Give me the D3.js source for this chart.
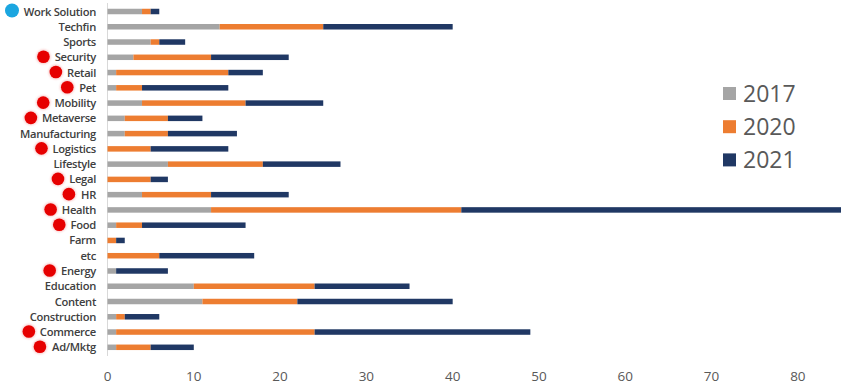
<!DOCTYPE html>
<html><head><meta charset="utf-8">
<script src="https://cdn.jsdelivr.net/npm/d3@7"></script>
<style>body{margin:0;background:#fff}svg{display:block}</style>
</head><body>
<svg id="c" width="863" height="389"></svg>
<script>
const categories = ["Work Solution","Techfin","Sports","Security","Retail","Pet","Mobility","Metaverse","Manufacturing","Logistics","Lifestyle","Legal","HR","Health","Food","Farm","etc","Energy","Education","Content","Construction","Commerce","Ad/Mktg"];
const v2017 = [4,13,5,3,1,1,4,2,2,0,7,0,4,12,1,0,0,1,10,11,1,1,1];
const v2020 = [1,12,1,9,13,3,12,5,5,5,11,5,8,29,3,1,6,0,14,11,1,23,4];
const v2021 = [1,15,3,9,4,10,9,4,8,9,9,2,9,44,12,1,11,6,11,18,4,25,5];
const seriesNames = ["2017","2020","2021"];
const xTicks = [0,10,20,30,40,50,60,70,80];
const redMarked = ["Security","Retail","Pet","Mobility","Metaverse","Logistics","Legal","HR","Health","Food","Energy","Commerce","Ad/Mktg"];
const blueMarked = ["Work Solution"];

const colors = ["#a5a5a5","#ed7d31","#203864"];
const svg = d3.select("#c");
const x = d3.scaleLinear().domain([0,85]).range([107.5,841]);
const y = d3.scalePoint().domain(categories).range([11.5,347.3]);
const barH = 5.5;

const rows = categories.map((c,i)=>({cat:c,"2017":v2017[i],"2020":v2020[i],"2021":v2021[i]}));
const stack = d3.stack().keys(seriesNames)(rows);

const defs = svg.append("defs");
const f = defs.append("filter").attr("id","glow").attr("x","-50%").attr("y","-50%").attr("width","200%").attr("height","200%");
f.append("feGaussianBlur").attr("in","SourceGraphic").attr("stdDeviation","0.8");

// axis line
svg.append("line").attr("x1",x(0)).attr("x2",x(0)).attr("y1",3).attr("y2",356)
  .attr("stroke","#d9d9d9").attr("stroke-width",1);

svg.append("g").selectAll("g").data(stack).join("g")
  .attr("fill",(d,i)=>colors[i])
  .selectAll("rect").data(d=>d).join("rect")
  .attr("x",d=>x(d[0])).attr("width",d=>x(d[1])-x(d[0]))
  .attr("y",d=>y(d.data.cat)-barH/2).attr("height",barH);

// x tick labels
svg.append("g").selectAll("text").data(xTicks).join("text")
  .attr("x",d=>x(d)).attr("y",381).attr("text-anchor","middle")
  .attr("font-family","'Open Sans', sans-serif").attr("font-size",13.5).attr("fill","#595959")
  .text(d=>d);

// category labels
const labels = svg.append("g").selectAll("text").data(categories).join("text")
  .attr("x",96).attr("y",d=>y(d)+4).attr("text-anchor","end")
  .attr("font-family","'Open Sans', sans-serif").attr("font-weight",600).attr("font-size",11.2)
  .attr("letter-spacing","-0.3px")
  .attr("fill","#404040").text(d=>d);

// marker dots
const dots = svg.append("g");
labels.each(function(d){
  const w = this.getBBox().width;
  const start = 96 - w;
  if (redMarked.includes(d)) {
    dots.append("circle").attr("cx",start-11).attr("cy",y(d)-0.5).attr("r",7.2)
      .attr("fill","#f5a0a0").attr("opacity",0.6).attr("filter","url(#glow)");
    dots.append("circle").attr("cx",start-11).attr("cy",y(d)-0.5).attr("r",6.3).attr("fill","#e60000");
  }
  if (blueMarked.includes(d)) {
    dots.append("circle").attr("cx",12).attr("cy",y(d)-1).attr("r",7).attr("fill","#1ba6e0");
  }
});

// legend
const lg = svg.append("g").selectAll("g").data(seriesNames).join("g")
  .attr("transform",(d,i)=>`translate(723,${93.5+i*33.2})`);
lg.append("rect").attr("x",0).attr("y",-6.5).attr("width",13).attr("height",13).attr("fill",(d,i)=>colors[i]);
lg.append("text").attr("x",20).attr("y",8.5)
  .attr("font-family","'Open Sans', sans-serif").attr("font-size",23).attr("fill","#595959").text(d=>d);
</script>
</body></html>
